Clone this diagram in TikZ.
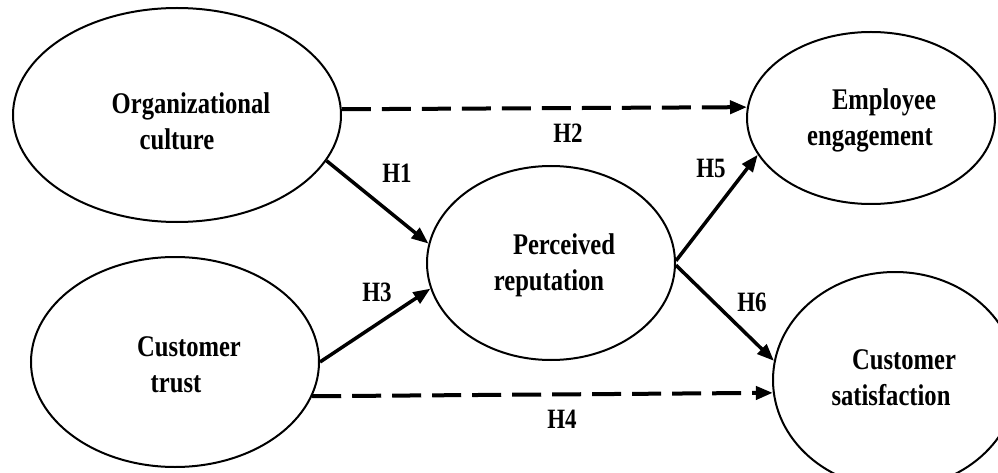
\documentclass[tikz,border=0pt]{standalone}
\usepackage{fontspec}
\newfontfamily\lbl{Liberation Serif}[FakeStretch=0.82]
\usetikzlibrary{shapes.geometric,arrows.meta}
\begin{document}
\begin{tikzpicture}[x=1pt,y=-1pt,
  construct/.style={draw,ellipse,line width=2pt,inner sep=0pt},
  ctext/.style={font=\lbl\bfseries\fontsize{30}{36}\selectfont,align=center,inner sep=0pt},
  hyp/.style={font=\lbl\bfseries\fontsize{28}{32}\selectfont,inner sep=0pt},
  solidarrow/.style={line width=3.5pt,-{Triangle[length=17pt,width=13pt]}},
  dasharrow/.style={line width=4pt,dash pattern=on 29pt off 11pt,-{Triangle[length=17pt,width=13pt]}}
]
\useasboundingbox (0,0) rectangle (998,473);
\fill[white] (0,0) rectangle (998,473);

\node[construct,minimum width=328pt,minimum height=214pt] (oc) at (177,115) {};
\node[construct,minimum width=288pt,minimum height=210pt] (ct) at (175,362) {};
\node[construct,minimum width=248pt,minimum height=194pt] (pr) at (551,263) {};
\node[construct,minimum width=248pt,minimum height=172pt] (ee) at (871,118) {};
\node[construct,minimum width=244pt,minimum height=216pt] (cs) at (895,380) {};

\node[ctext] (toc) at (191,121) {Organizational\\culture\hspace*{28pt}};
\node[ctext] (tct) at (189,365) {Customer\\trust\hspace*{26pt}};
\node[ctext] (tpr) at (564,265) {Perceived\\reputation\hspace*{30pt}};
\node[ctext] (tee) at (884,120) {Employee\\engagement\hspace*{28pt}};
\node[ctext] (tcs) at (904,378) {Customer\\satisfaction\hspace*{26pt}};

\draw[solidarrow] (oc.-17) -- (pr.171);
\draw[solidarrow] (ct.0) -- (pr.-168);
\draw[solidarrow] (pr.1) -- (ee.-162);
\draw[solidarrow] (pr.-1) -- (cs.171);
\draw[dasharrow] (oc.2) -- (ee.175);
\draw[dasharrow] (ct.-14) -- (cs.-174);

\node[hyp] (h1) at (397,173) {H1};
\node[hyp] (h2) at (568,133) {H2};
\node[hyp] (h3) at (377,292) {H3};
\node[hyp] (h4) at (562,419) {H4};
\node[hyp] (h5) at (711,168) {H5};
\node[hyp] (h6) at (752,302) {H6};
\end{tikzpicture}
\end{document}
